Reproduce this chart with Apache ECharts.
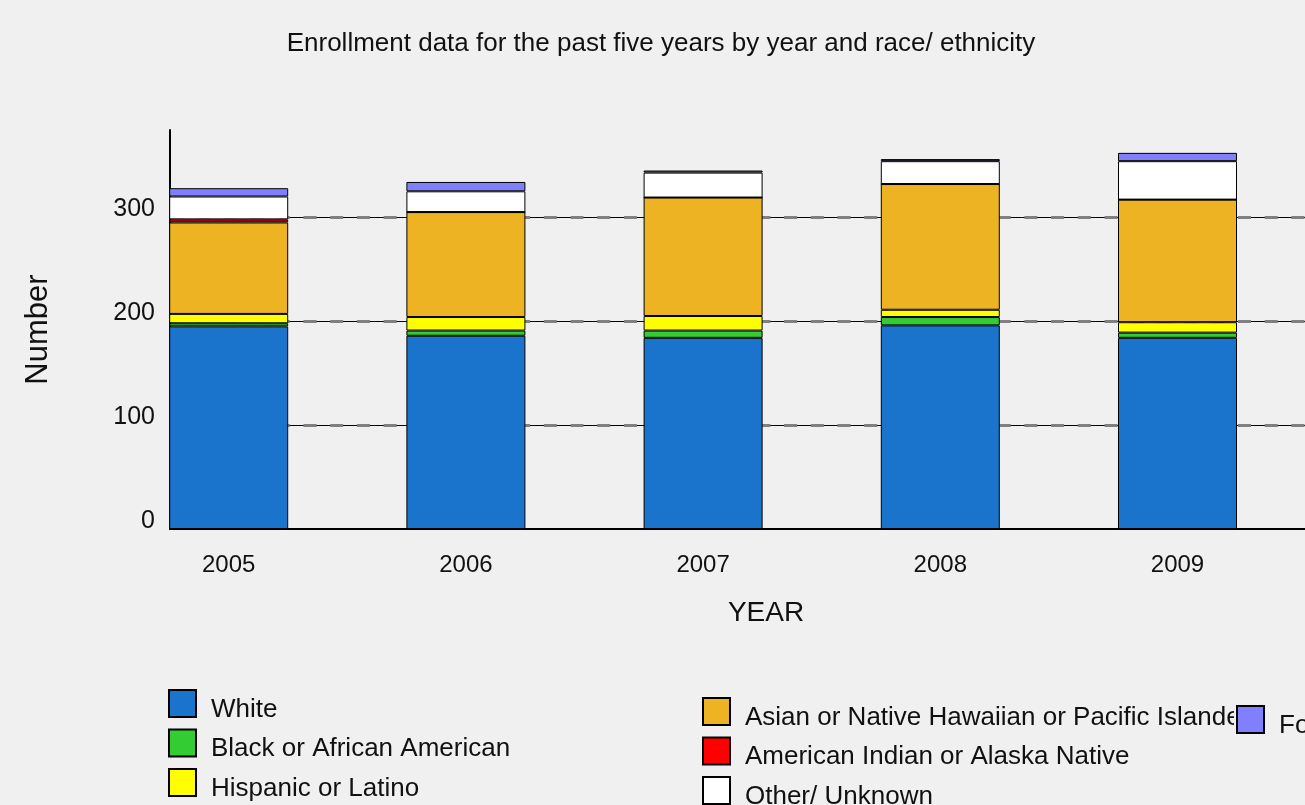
<!DOCTYPE html>
<html>
<head>
<meta charset="utf-8">
<title>Enrollment by year and race/ethnicity</title>
<script src="https://cdn.jsdelivr.net/npm/echarts@6/dist/echarts.min.js"></script>
<style>
  html, body { margin: 0; padding: 0; background: #f0f0f0; }
  #chart { width: 1305px; height: 805px; }
</style>
</head>
<body>
<div id="chart"></div>
<script>
// Enrollment counts by year, one array per race/ethnicity group (stacked bottom to top)
const years = [2005, 2006, 2007, 2008, 2009];
const yTicks = [0, 100, 200, 300];

const white    = [195, 186, 184, 196, 184];
const black    = [3, 5, 7, 8, 5];
const hispanic = [9, 13, 14, 7, 10];
const asian    = [88, 101, 114, 121, 118];
const amIndian = [3, 0, 0, 0, 0];
const other    = [22, 20, 24, 22, 37];
const foreign  = [8, 9, 2, 2, 8];

const groupNames = [
  'White',
  'Black or African American',
  'Hispanic or Latino',
  'Asian or Native Hawaiian or Pacific Islander',
  'American Indian or Alaska Native',
  'Other/ Unknown',
  'Foreign'
];
const groupValues = [white, black, hispanic, asian, amIndian, other, foreign];
const groupColors = ['#1b74cc', '#33cc33', '#ffff00', '#edb322', '#ff0000', '#ffffff', '#8080ff'];

const FONT = '"Liberation Sans", Arial, sans-serif';
const TEXT = '#111111';

// horizontal layout: one year every 237.2 px, first bar centred 58.7 px right of the axis
const plotLeft = 170, plotRight = 1305, yearStep = 237.2;
const xMin = years[0] - 58.7 / yearStep;
const xMax = xMin + (plotRight - plotLeft) / yearStep;
const yMax = 384;

const chart = echarts.init(document.getElementById('chart'), null, { renderer: 'canvas' });

// each point is [count, year]; the count column comes first so the stack sums counts
const series = groupNames.map((name, g) => ({
  name: name,
  type: 'bar',
  stack: 'total',
  barWidth: 119,
  encode: { x: 1, y: 0 },
  itemStyle: { color: groupColors[g], borderColor: '#000', borderWidth: 1 },
  emphasis: { disabled: true },
  data: years.map((yr, i) => [groupValues[g][i], yr])
}));

// legend labels sit a little below the middle of their swatch;
// a generous height keeps each column from wrapping at the bottom edge
const legendBase = {
  orient: 'vertical',
  icon: 'rect',
  itemWidth: 27,
  itemHeight: 27,
  itemGap: 6,
  padding: 0,
  height: 300,
  selectedMode: false,
  formatter: '{t|{name}}',
  textStyle: {
    fontFamily: FONT, fontSize: 26, color: TEXT,
    padding: [12, 0, 0, 10],
    rich: { t: { fontFamily: FONT, fontSize: 26, color: TEXT } }
  }
};

chart.setOption({
  backgroundColor: '#f0f0f0',
  animation: false,
  title: {
    text: 'Enrollment data for the past five years by year and race/ ethnicity',
    left: 656,
    textAlign: 'center',
    top: 26,
    textStyle: { fontFamily: FONT, fontSize: 26, fontWeight: 'normal', color: TEXT }
  },
  legend: [
    Object.assign({}, legendBase, { left: 168, top: 689, data: groupNames.slice(0, 3) }),
    Object.assign({}, legendBase, { left: 702, top: 697, data: groupNames.slice(3, 6) }),
    Object.assign({}, legendBase, {
      left: 1234, top: 705, z: 6, padding: [0, 0, 0, 2],
      backgroundColor: '#f0f0f0', data: groupNames.slice(6)
    })
  ],
  grid: { left: plotLeft, right: 1305 - plotRight, top: 130, bottom: 805 - 529 },
  xAxis: {
    type: 'value',
    min: xMin,
    max: xMax,
    name: 'YEAR',
    nameLocation: 'middle',
    nameGap: 70,
    nameTextStyle: { fontFamily: FONT, fontSize: 28, color: TEXT, padding: [0, 0, 0, 57] },
    axisLine: { show: true, lineStyle: { color: '#000', width: 2 } },
    axisTick: { show: false },
    splitLine: { show: false },
    axisLabel: {
      customValues: years,
      formatter: v => String(Math.round(v)),
      margin: 24,
      fontFamily: FONT, fontSize: 24, color: TEXT
    }
  },
  yAxis: [
    {
      type: 'value',
      min: 0,
      max: yMax,
      interval: 100,
      name: 'Number',
      nameLocation: 'middle',
      nameGap: 116,
      nameRotate: 90,
      nameTextStyle: { fontFamily: FONT, fontSize: 31, color: TEXT },
      axisLine: { show: true, lineStyle: { color: '#000', width: 2 } },
      axisTick: { show: false },
      axisLabel: {
        customValues: yTicks,
        margin: 15,
        verticalAlign: 'bottom',
        lineHeight: 16,
        fontFamily: FONT, fontSize: 25, color: TEXT
      },
      splitLine: { show: true, showMinLine: false, showMaxLine: false, lineStyle: { color: '#000', width: 1 } }
    },
    {
      // grey dashes laid over the solid grid lines
      type: 'value',
      min: 0,
      max: yMax,
      interval: 100,
      position: 'left',
      axisLine: { show: false },
      axisTick: { show: false },
      axisLabel: { show: false },
      splitLine: {
        show: true, showMinLine: false, showMaxLine: false,
        lineStyle: { color: '#808080', width: 3, type: [13, 13.7] }
      }
    }
  ],
  series: series
});
</script>
</body>
</html>
